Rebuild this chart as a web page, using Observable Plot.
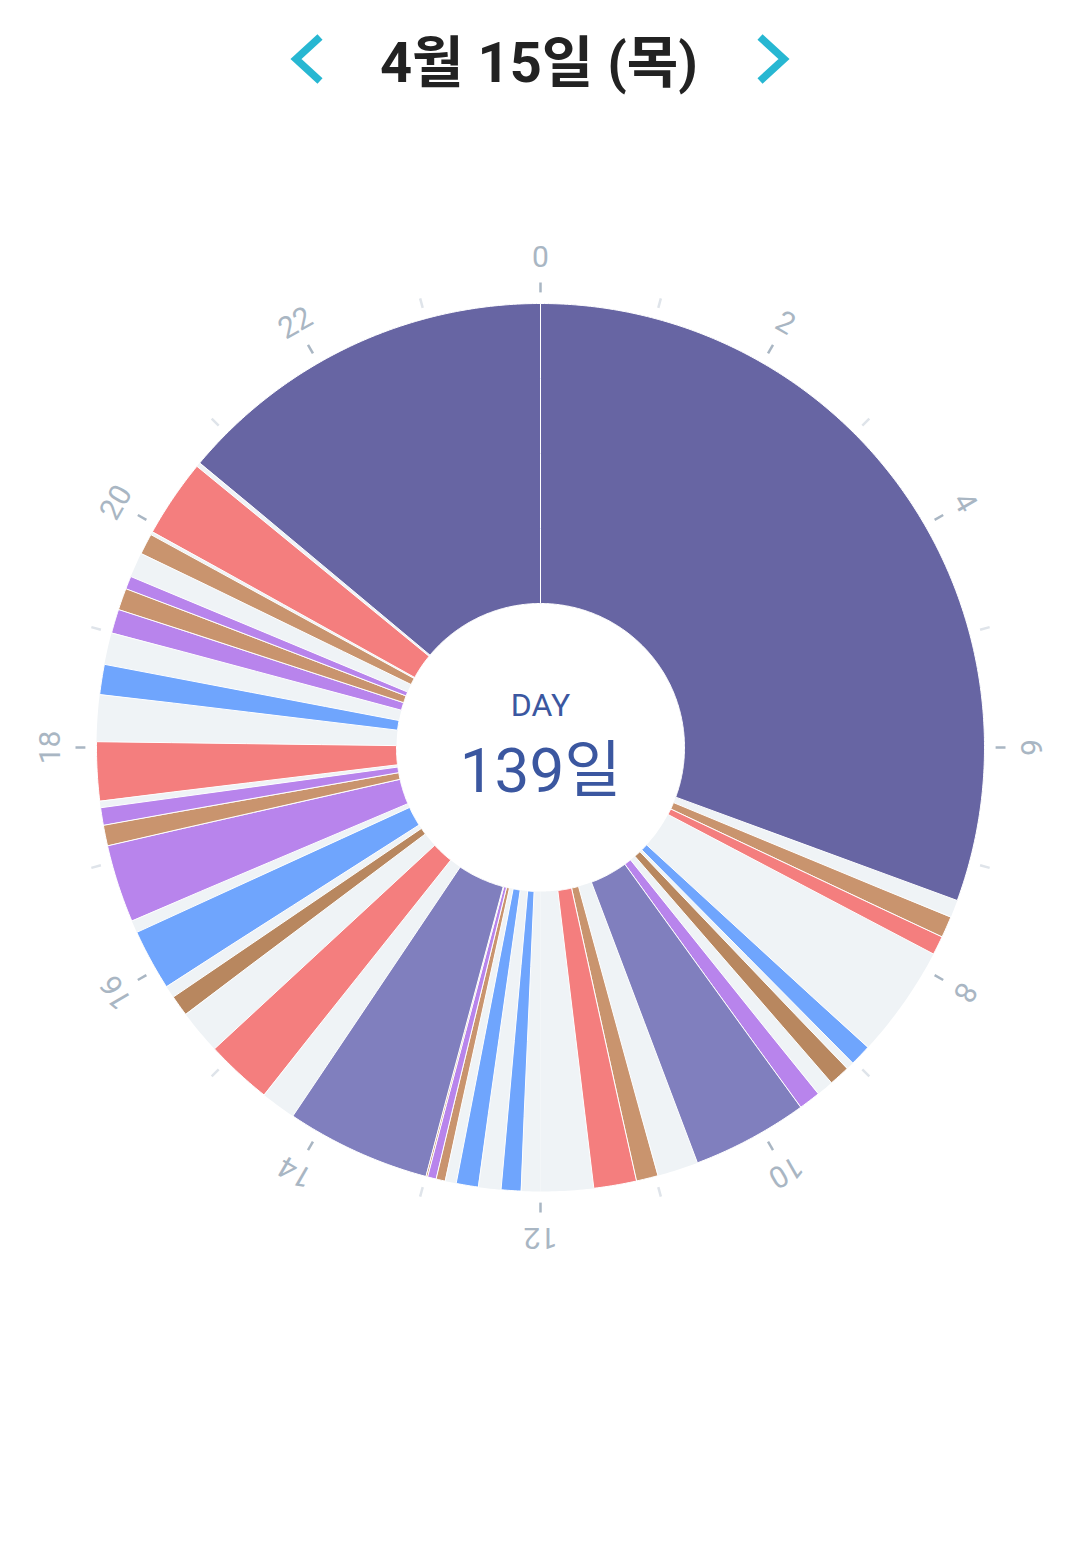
<!DOCTYPE html>
<html>
<head>
<meta charset="utf-8">
<script src="https://cdn.jsdelivr.net/npm/d3@7"></script>
<script src="https://cdn.jsdelivr.net/npm/@observablehq/plot@0.6"></script>
<style>
  html, body { margin: 0; padding: 0; background: #ffffff; }
  body { width: 1080px; height: 1546px; overflow: hidden; font-family: Roboto, "Noto Sans CJK KR", sans-serif; }
  #header { display: block; }
  #chart svg { display: block; }
</style>
</head>
<body>
<svg id="header" width="1080" height="207" xmlns="http://www.w3.org/2000/svg">
  <polyline points="320,37 296,59 320,81" fill="none" stroke="#27b7d2" stroke-width="7.5" stroke-linecap="butt" stroke-linejoin="miter"/>
  <polyline points="760,37 784,59 760,81" fill="none" stroke="#27b7d2" stroke-width="7.5" stroke-linecap="butt" stroke-linejoin="miter"/>
  <text id="title" x="539" y="82" text-anchor="middle" font-family="Roboto, 'Noto Sans CJK KR', sans-serif" font-weight="700" font-size="56" fill="#222222"></text>
</svg>
<div id="chart"></div>
<script>
// ---- text ----
const titleText = "4월 15일 (목)";
const centerLabel = "DAY";
const centerValue = "139일";

// ---- axis ----
const hourTicks = d3.range(0, 24);          // every hour gets a tick
const hourLabels = d3.range(0, 24, 2);      // labelled hours

// ---- categories ----
const categories = ["sleep", "nap", "feed", "bottle", "diaper", "pump", "play"];
const categoryColors = ["#6765a3", "#807fbe", "#f47e7e", "#c9946e", "#b8875f", "#6fa5fd", "#b884ec"];

// ---- activity records (hours of day) ----
const segStart = [0, 7.50, 7.686, 8.835, 9.09, 9.42, 9.61, 10.98, 11.17, 12.17, 12.54, 12.83, 12.91, 12.985, 13.0,
                  14.57, 15.54, 15.83, 16.47, 17.15, 17.33, 17.54, 18.46, 19.0, 19.21, 19.40, 19.73, 19.94, 20.66];
const segEnd   = [7.344, 7.686, 7.848, 9.02, 9.27, 9.61, 10.62, 11.17, 11.54, 12.34, 12.73, 12.91, 12.985, 13.0, 14.26,
                  15.15, 15.72, 16.36, 17.15, 17.33, 17.48, 18.05, 18.72, 19.21, 19.40, 19.51, 19.91, 20.62, 24];
const segCategory = ["sleep", "bottle", "feed", "pump", "diaper", "play", "nap", "bottle", "feed", "pump", "pump", "bottle", "play", "bottle", "nap",
                     "feed", "diaper", "pump", "play", "bottle", "play", "feed", "pump", "play", "bottle", "play", "bottle", "feed", "sleep"];

const records = segStart.map((s, i) => ({start: s, end: segEnd[i], category: segCategory[i]}));

// ---- polar geometry via azimuthal-equidistant projection centred on the pole ----
// Sphere domain: 180° of arc = 540px, i.e. 3px per degree.
const R_IN = 48, R_OUT = 148, TICK0 = 151.7, TICK1 = 155, R_LABEL = 163.3;
const lon = h => 180 - h * 15;   // clockwise from top
const lat = r => 90 - r;

function sector(h0, h1, r0, r1) {
  const n = Math.max(2, Math.ceil((h1 - h0) * 15 * 2));
  const ring = [];
  for (let i = 0; i <= n; i++) ring.push([lon(h0 + (h1 - h0) * i / n), lat(r1)]);
  for (let i = 0; i <= n; i++) ring.push([lon(h1 - (h1 - h0) * i / n), lat(r0)]);
  ring.push(ring[0]);
  return {type: "Polygon", coordinates: [ring]};
}

document.getElementById("title").textContent = titleText;

const chart = Plot.plot({
  width: 1080,
  height: 1080,
  margin: 0,
  projection: {type: "azimuthal-equidistant", rotate: [0, -90], domain: {type: "Sphere"}},
  color: {domain: categories, range: categoryColors},
  style: {background: "transparent", fontFamily: "Roboto, 'Noto Sans CJK KR', sans-serif"},
  marks: [
    // empty (unrecorded) time
    Plot.geo([0, 6, 12, 18], {geometry: h => sector(h, h + 6, R_IN, R_OUT), fill: "#eff3f6"}),
    // activities
    Plot.geo(records, {geometry: d => sector(d.start, d.end, R_IN, R_OUT), fill: "category", stroke: "white", strokeWidth: 1}),
    // ticks
    Plot.link(hourTicks.filter(h => h % 2 === 1), {x1: lon, y1: lat(TICK0), x2: lon, y2: lat(TICK1), stroke: "#dfe4ea", strokeWidth: 2.5}),
    Plot.link(hourTicks.filter(h => h % 2 === 0), {x1: lon, y1: lat(TICK0), x2: lon, y2: lat(TICK1), stroke: "#a9b6c3", strokeWidth: 2.5}),
    // hour labels
    Plot.text(hourLabels, {x: lon, y: lat(R_LABEL), text: d => String(d), rotate: h => h * 15,
      fill: "#a9b6c3", fontSize: 30, fontWeight: 400, textAnchor: "middle", lineAnchor: "middle"}),
    // centre text
    Plot.text([centerLabel], {frameAnchor: "middle", dy: -42, text: d => d, fill: "#3b57a0", fontSize: 32, lineAnchor: "middle"}),
    Plot.text([centerValue], {frameAnchor: "middle", dy: 25, text: d => d, fill: "#3b57a0", fontSize: 62, lineAnchor: "middle"})
  ]
});
document.getElementById("chart").appendChild(chart);
</script>
</body>
</html>
